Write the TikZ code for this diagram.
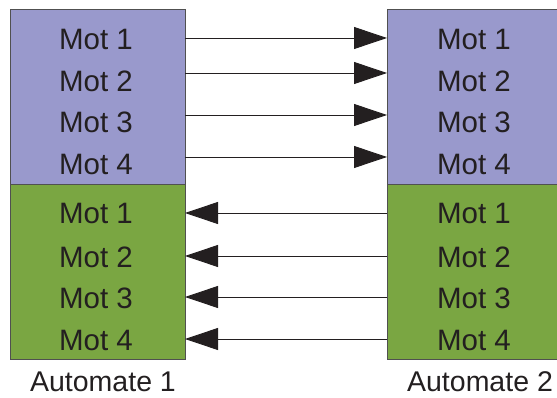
\documentclass[tikz,border=0pt]{standalone}
\usepackage{fontspec}
\setmainfont{Liberation Sans}
\usetikzlibrary{arrows.meta}
\definecolor{sendblue}{RGB}{153,153,204}
\definecolor{recvgreen}{RGB}{122,166,66}
\definecolor{ink}{RGB}{35,31,32}
\definecolor{edge}{RGB}{80,80,80}
\begin{document}
\begin{tikzpicture}[x=1pt,y=-1pt,
  word/.style={anchor=base,inner sep=0pt,text=ink,font=\fontsize{29.5}{34}\selectfont},
  caption/.style={anchor=base,inner sep=0pt,text=ink,font=\fontsize{28.5}{34}\selectfont},
  zone/.style={draw=edge,line width=1pt},
  link/.style={draw=ink,line width=0.9pt,-{Triangle[length=33pt,width=22pt]}}]
\useasboundingbox (0,0) rectangle (557,398);
\clip (0,0) rectangle (557,398);

% controller blocks: sent words (blue) above received words (green)
\path[zone,fill=sendblue]  (10,10)   rectangle (185,185);
\path[zone,fill=recvgreen] (10,185)  rectangle (185,359);
\path[zone,fill=sendblue]  (387,10)  rectangle (570,185);
\path[zone,fill=recvgreen] (387,185) rectangle (570,359);

% word labels
\foreach \i/\y in {1/50,2/92,3/133,4/175}{
  \node[word] (A1s\i) at (96,\y) {Mot \i};
  \node[word] (A2s\i) at (474,\y) {Mot \i};
}
\foreach \i/\y in {1/224,2/267,3/308,4/350}{
  \node[word] (A1r\i) at (96,\y) {Mot \i};
  \node[word] (A2r\i) at (474,\y) {Mot \i};
}

% connection points on the block edges
\foreach \i/\y in {1/38,2/73,3/115,4/157}{
  \coordinate (L\i) at (185,\y);
  \coordinate (R\i) at (387,\y);
}
\foreach \i/\y in {1/213,2/256,3/297,4/339}{
  \coordinate (Lr\i) at (185,\y);
  \coordinate (Rr\i) at (387,\y);
}

% exchanges between the two controllers
\foreach \i in {1,...,4}{
  \draw[link] (L\i) -- (R\i);
  \draw[link] (Rr\i) -- (Lr\i);
}

% captions
\node[caption] (cap1) at (103,391) {Automate 1};
\node[caption] (cap2) at (480,391) {Automate 2};
\end{tikzpicture}
\end{document}
